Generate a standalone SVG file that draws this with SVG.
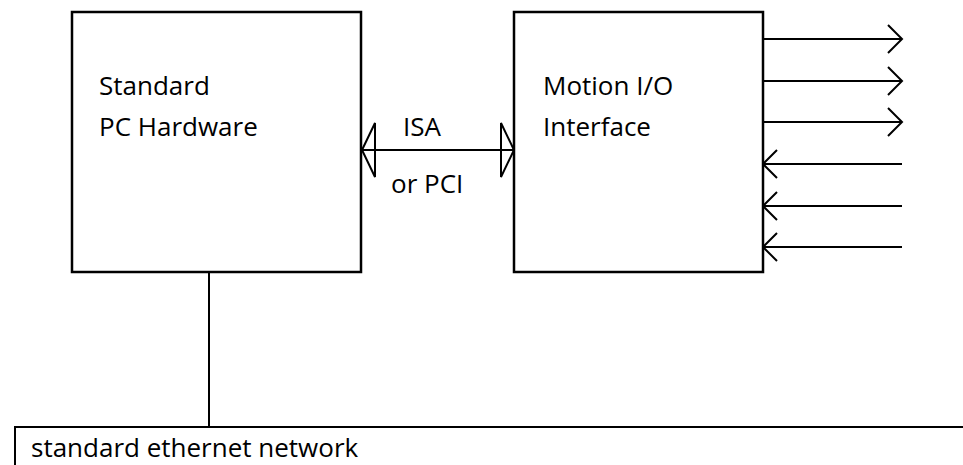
<svg xmlns="http://www.w3.org/2000/svg" width="963" height="465" viewBox="0 0 963 465">
  <style>
    .box { fill: #ffffff; stroke: #000000; stroke-width: 2.5; }
    .line { fill: none; stroke: #000000; stroke-width: 2; }
    .head { fill: none; stroke: #000000; stroke-width: 2; stroke-linejoin: miter; }
    .label { font-family: "Open Sans", "Noto Sans", "Liberation Sans", sans-serif; font-size: 26px; fill: #000000; }
  </style>
  <rect width="963" height="465" fill="#ffffff"/>

  <!-- Connectors -->
  <g id="connectors">
    <!-- ISA / PCI bus, double-headed -->
    <line class="line" x1="362" y1="150" x2="514" y2="150"/>
    <polygon class="head" points="362,150 375,123 375,177"/>
    <polygon class="head" points="514,150 501,123 501,177"/>
    <!-- outputs -->
    <line class="line" x1="763" y1="39" x2="902" y2="39"/>
    <polyline class="head" points="888,25 902,39 888,53"/>
    <line class="line" x1="763" y1="81" x2="902" y2="81"/>
    <polyline class="head" points="888,67 902,81 888,95"/>
    <line class="line" x1="763" y1="122" x2="902" y2="122"/>
    <polyline class="head" points="888,108 902,122 888,136"/>
    <!-- inputs -->
    <line class="line" x1="902" y1="164" x2="763" y2="164"/>
    <polyline class="head" points="777,150 763,164 777,178"/>
    <line class="line" x1="902" y1="206" x2="763" y2="206"/>
    <polyline class="head" points="777,192 763,206 777,220"/>
    <line class="line" x1="902" y1="247" x2="763" y2="247"/>
    <polyline class="head" points="777,233 763,247 777,261"/>
    <!-- PC to network drop -->
    <line class="line" x1="209" y1="272" x2="209" y2="427"/>
    <text class="label" x="403" y="136">ISA</text>
    <text class="label" x="391" y="193">or PCI</text>
  </g>

  <g id="pc-hardware">
    <rect class="box" x="72" y="12" width="289" height="260"/>
    <text class="label" x="99" y="95">Standard</text>
    <text class="label" x="99" y="136">PC Hardware</text>
  </g>

  <g id="motion-io">
    <rect class="box" x="514" y="12" width="249" height="260"/>
    <text class="label" x="543" y="95">Motion I/O</text>
    <text class="label" x="543" y="136">Interface</text>
  </g>

  <g id="ethernet">
    <polyline class="line" points="15,465 15,427 963,427" stroke-width="2.5"/>
    <text class="label" x="31" y="457">standard ethernet network</text>
  </g>
</svg>
